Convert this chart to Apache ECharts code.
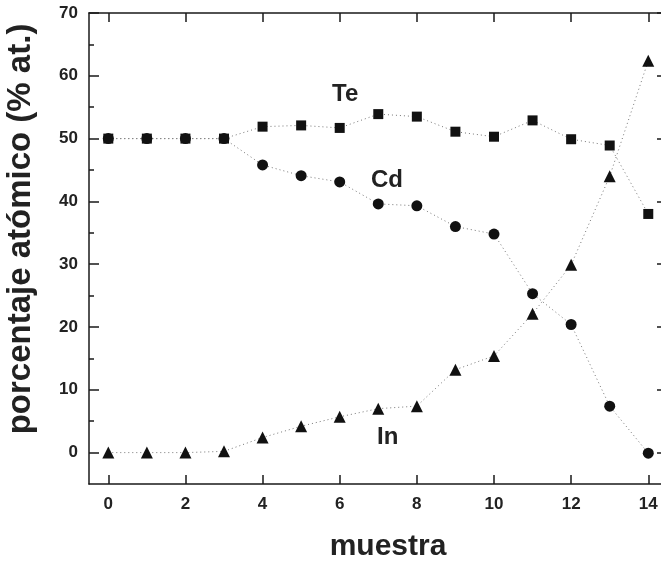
<!DOCTYPE html>
<html><head><meta charset="utf-8">
<script src="https://cdn.jsdelivr.net/npm/echarts@6/dist/echarts.min.js"></script>
<style>html,body{margin:0;padding:0;background:#fff}#c{width:661px;height:564px}</style>
</head><body><div id="c"></div>
<script>
const muestra = [0,1,2,3,4,5,6,7,8,9,10,11,12,13,14];
const te = [50,50,50,50,51.9,52.1,51.7,53.9,53.5,51.1,50.3,52.9,49.9,48.9,38.0];
const cd = [50,50,50,50,45.8,44.1,43.1,39.6,39.3,36.0,34.8,25.3,20.4,7.4,-0.1];
const inn = [0,0,0,0.2,2.4,4.2,5.7,7.0,7.4,13.2,15.4,22.1,29.9,44.0,62.4];
const xTicks = [0,2,4,6,8,10,12,14];
const yMajor = [0,10,20,30,40,50,60,70];
const yMinor = [5,15,25,35,45,55,65];

const axisCol = '#1a1a1a';
const txtCol = '#222';
const font = '"Liberation Sans", Arial, sans-serif';
const pair = (xs, ys) => xs.map((x, i) => [x, ys[i]]);
const lineSt = {color: '#777', width: 1, type: [1, 3]};
const aLine = {show: true, onZero: false, lineStyle: {color: axisCol, width: 1.5}};
const X_MIN = -0.5, X_MAX = 14.33;

const chart = echarts.init(document.getElementById('c'));
chart.setOption({
  animation: false,
  backgroundColor: '#fff',
  grid: {left: 89, top: 13, right: 0, height: 471},
  xAxis: [
    {type: 'value', position: 'bottom', min: X_MIN, max: X_MAX,
     axisLine: aLine,
     axisTick: {show: true, inside: true, length: 9, customValues: xTicks, lineStyle: {color: axisCol, width: 1.5}},
     axisLabel: {customValues: xTicks, margin: 12, color: txtCol, fontSize: 17, fontWeight: 'bold', fontFamily: font},
     splitLine: {show: false}},
    {type: 'value', position: 'top', min: X_MIN, max: X_MAX,
     axisLine: aLine,
     axisTick: {show: true, inside: true, length: 9, customValues: xTicks, lineStyle: {color: axisCol, width: 1.5}},
     axisLabel: {show: false}, splitLine: {show: false}}
  ],
  yAxis: [
    {type: 'value', position: 'left', min: -5, max: 70,
     axisLine: aLine,
     axisTick: {show: true, inside: true, length: 10, customValues: yMajor, lineStyle: {color: axisCol, width: 1.5}},
     axisLabel: {customValues: yMajor, margin: 11, color: txtCol, fontSize: 17, fontWeight: 'bold', fontFamily: font},
     splitLine: {show: false}},
    {type: 'value', position: 'left', min: -5, max: 70,
     axisLine: {show: false, onZero: false},
     axisTick: {show: true, inside: true, length: 5, customValues: yMinor, lineStyle: {color: axisCol, width: 1.5}},
     axisLabel: {show: false}, splitLine: {show: false}},
    {type: 'value', position: 'right', min: -5, max: 70,
     axisLine: {show: false, onZero: false},
     axisTick: {show: true, inside: true, length: 4, customValues: yMajor, lineStyle: {color: axisCol, width: 1.5}},
     axisLabel: {show: false}, splitLine: {show: false}}
  ],
  series: [
    {name: 'In', type: 'line', data: pair(muestra, inn), symbol: 'triangle', symbolSize: 12,
     itemStyle: {color: '#111'}, lineStyle: lineSt},
    {name: 'Cd', type: 'line', data: pair(muestra, cd), symbol: 'circle', symbolSize: 11,
     itemStyle: {color: '#111'}, lineStyle: lineSt},
    {name: 'Te', type: 'line', data: pair(muestra, te), symbol: 'rect', symbolSize: 10,
     itemStyle: {color: '#111'}, lineStyle: lineSt}
  ],
  graphic: [
    {type: 'text', x: 332, y: 94, style: {text: 'Te', fill: txtCol, font: 'bold 24px ' + font, verticalAlign: 'middle'}},
    {type: 'text', x: 371, y: 180, style: {text: 'Cd', fill: txtCol, font: 'bold 24px ' + font, verticalAlign: 'middle'}},
    {type: 'text', x: 377, y: 437, style: {text: 'In', fill: txtCol, font: 'bold 24px ' + font, verticalAlign: 'middle'}},
    {type: 'text', x: 388, y: 547, style: {text: 'muestra', fill: txtCol, font: 'bold 30px ' + font, align: 'center', verticalAlign: 'middle'}},
    {type: 'text', x: 21, y: 229, rotation: Math.PI / 2, style: {text: 'porcentaje atómico (% at.)', fill: txtCol, font: 'bold 33px ' + font, align: 'center', verticalAlign: 'middle'}}
  ]
});
</script>
</body></html>
